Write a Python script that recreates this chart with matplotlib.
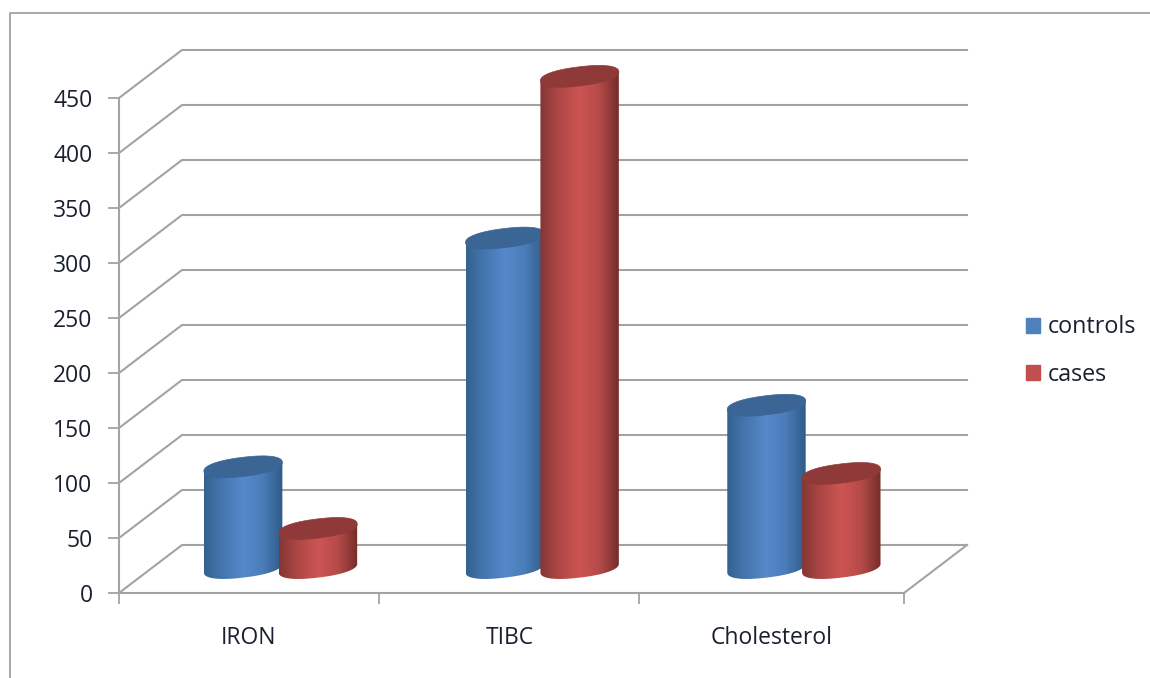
import matplotlib
matplotlib.use('Agg')
import matplotlib.pyplot as plt
from matplotlib.colors import LinearSegmentedColormap
from matplotlib.lines import Line2D
from matplotlib.patches import Patch, Polygon
import numpy as np

categories = ['IRON', 'TIBC', 'Cholesterol']
controls = [92, 300, 148]
cases = [36, 447, 86]
y_ticks = [0, 50, 100, 150, 200, 250, 300, 350, 400, 450]
x_edges = [0, 0.994, 1.987, 3]

plt.rcParams['font.family'] = ['Open Sans', 'DejaVu Sans']
plt.rc('font', size=15)

W, H = 1150, 678
grid_color = '#a3a3a3'
text_color = '#1a2030'

fig = plt.figure(figsize=(W / 100, H / 100), dpi=100)
ax = fig.add_axes([119 / W, (H - 593) / H, 785 / W, 495 / H])
ax.set_xlim(0, 3)
ax.set_ylim(0, 450)
ax.set_facecolor('none')

# pixels per data unit, the cylinders are worked out in pixels
sx = 785 / 3
sy = 495 / 450
depth_x = 63 / sx
depth_y = 48 / sy

# back wall and side wall gridlines
for v in y_ticks:
    ax.plot([0, depth_x, 3 + depth_x], [v, v + depth_y, v + depth_y],
            color=grid_color, lw=1.5, clip_on=False, zorder=1)
ax.plot([3, 3 + depth_x], [0, depth_y], color=grid_color, lw=1.5, clip_on=False, zorder=1)

for s in ['top', 'right']:
    ax.spines[s].set_visible(False)
for s in ['left', 'bottom']:
    ax.spines[s].set_color(grid_color)
    ax.spines[s].set_linewidth(1.5)

ax.set_yticks(y_ticks)
ax.set_xticks(x_edges)
ax.set_xticklabels([])
ax.set_xticks([i + 0.493 for i in range(len(categories))], categories, minor=True)
ax.tick_params(axis='both', which='major', length=8, width=1.3, color=grid_color,
               labelcolor=text_color, labelsize=16.5, pad=11)
ax.tick_params(axis='x', which='minor', length=0, pad=24, labelcolor=text_color, labelsize=16.5)

blue_map = LinearSegmentedColormap.from_list(
    'blue', [(0, '#34628f'), (0.2, '#4273ab'), (0.5, '#5689ca'), (0.75, '#4a7cb8'), (1, '#2f5b88')])
red_map = LinearSegmentedColormap.from_list(
    'red', [(0, '#843533'), (0.2, '#a84543'), (0.5, '#cd5553'), (0.75, '#b54b49'), (1, '#752d2b')])

A, B, TILT = 39.5, 9.5, np.radians(7)


def ellipse(cx, cy, t):
    # tilted rounded ellipse, pixel offsets converted back to data units
    c = np.sign(np.cos(t)) * np.abs(np.cos(t)) ** 0.88
    s = np.sign(np.sin(t)) * np.abs(np.sin(t)) ** 0.88
    px = A * c * np.cos(TILT) - B * s * np.sin(TILT)
    py = A * c * np.sin(TILT) + B * s * np.cos(TILT)
    return cx + px / sx, cy + py / sy


def cylinder(cx, value, cmap, top_color, z):
    base = 0.52 * depth_y
    top = base + value
    t = np.linspace(-np.pi, 0, 80)
    bx, by = ellipse(cx, base, t)
    tx, ty = ellipse(cx, top, t)
    body = Polygon(np.column_stack([np.r_[bx, tx[-1], tx[0]], np.r_[by, ty[-1], ty[0]]]),
                   closed=True, transform=ax.transData, facecolor='none', edgecolor='none')
    ax.add_patch(body)
    im = ax.imshow(np.linspace(0, 1, 200).reshape(1, -1), cmap=cmap, aspect='auto',
                   extent=[bx.min(), bx.max(), by.min(), top + 30], zorder=z)
    im.set_clip_box(fig.bbox)
    im.set_clip_path(body)
    full = np.linspace(0, 2 * np.pi, 160)
    ex, ey = ellipse(cx, top, full)
    ax.fill(ex, ey, color=top_color, lw=0.5, zorder=z + 0.5, clip_on=False)


for i in range(len(categories)):
    center = i + 0.5 + depth_x / 2 - 0.003
    cylinder(center - 0.143, controls[i], blue_map, '#3a6594', 3 + i)
    cylinder(center + 0.143, cases[i], red_map, '#8f3a38', 3.7 + i)

ax.set_xlim(0, 3)
ax.set_ylim(0, 450)

# legend
handles = [Patch(facecolor='#4f81bd', edgecolor='#4f81bd', label='controls'),
           Patch(facecolor='#c0504d', edgecolor='#c0504d', label='cases')]
fig.legend(handles=handles, loc='center left', bbox_to_anchor=(1026 / W, (H - 351) / H),
           frameon=False, fontsize=16.8, labelcolor=text_color, handlelength=0.62,
           handleheight=0.62, handletextpad=0.3, labelspacing=1.0, borderpad=0, borderaxespad=0)

# outer chart border, only top and left are in the picture
fig.add_artist(Line2D([10 / W, 10 / W, 1], [0, (H - 13) / H, (H - 13) / H], color='#a8a8a8', lw=1.4))

fig.savefig('out.png', dpi=100)
